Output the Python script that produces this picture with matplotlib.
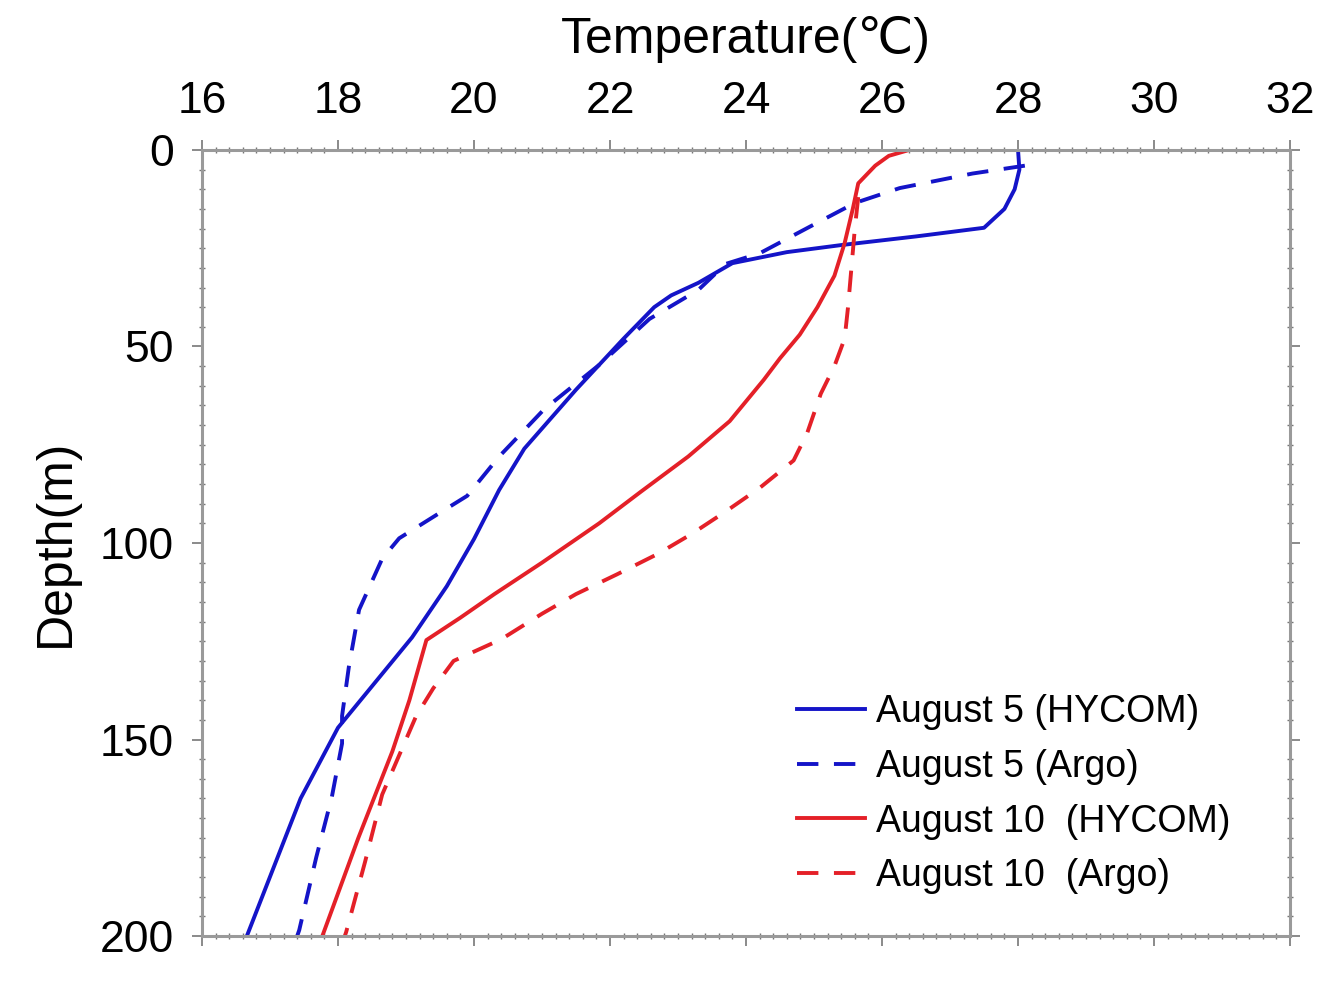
import matplotlib
matplotlib.use("Agg")
import matplotlib.pyplot as plt
from matplotlib.ticker import MultipleLocator

plt.rcParams['font.family'] = ['Liberation Sans', 'DejaVu Sans']

# Aug 5 HYCOM profile (temperature, depth)
Aug5HycomT = [28.0, 28.02, 27.95, 27.8, 27.5, 26.5, 25.4, 24.6, 23.8, 23.3, 22.9, 22.65,
              22.2, 21.5, 20.74, 20.37, 20.0, 19.6, 19.09, 18.0, 17.45, 16.66]
Aug5HycomD = [0, 5, 10, 15, 19.8, 22, 24.2, 26, 28.8, 33.8, 37, 40,
              48, 61, 76, 86.5, 99, 111, 124, 147, 165, 200]

# Aug 5 Argo profile
Aug5ArgoT = [28.1, 27.33, 26.26, 25.6, 24.93, 24.2, 23.7, 23.3, 22.58, 21.84, 21.03, 20.37,
             19.9, 19.49, 18.9, 18.65, 18.31, 18.16, 18.06, 18.06, 17.91, 17.68, 17.43, 17.4]
Aug5ArgoD = [4, 6, 9.7, 13.5, 19.6, 26.3, 29, 35.6, 43, 54.7, 66, 78,
             88, 92.4, 98.8, 104, 117, 131.5, 144, 151, 164.6, 180, 198.5, 200]

# Aug 10 HYCOM profile
Aug10HycomT = [26.4, 26.1, 25.9, 25.65, 25.57, 25.45, 25.3, 25.05, 24.79, 24.5, 24.26, 23.76,
               23.15, 22.45, 21.84, 21.0, 20.3, 19.8, 19.3, 19.05, 18.8, 18.3, 17.77]
Aug10HycomD = [0, 1.5, 4, 8.5, 15, 23.7, 32, 40, 47, 53, 58.5, 69,
               78, 87, 95, 105, 113, 119, 124.7, 140, 153, 175, 200]

# Aug 10 Argo profile
Aug10ArgoT = [25.65, 25.6, 25.55, 25.5, 25.45, 25.3, 25.1, 24.9, 24.7, 24.2, 23.7, 23.2,
              22.7, 22.1, 21.5, 21.0, 20.4, 19.7, 19.4, 19.15, 19.0, 18.65, 18.4, 18.12, 18.1]
Aug10ArgoD = [12, 20, 30, 40, 48, 55, 62, 72, 79, 86, 92, 97.7,
              102.8, 108, 113, 118, 124.5, 130, 137, 144, 150, 164, 181, 199, 200]

XTicks = [16, 18, 20, 22, 24, 26, 28, 30, 32]
YTicks = [0, 50, 100, 150, 200]

Blue = '#1414c8'
Red = '#e42028'
Dash = (5.5, 4)
LW = 2.8

Fig = plt.figure(figsize=(13.42, 9.82), dpi=100)
Ax = Fig.add_axes([0.1505, 0.0468, 0.8108, 0.8005])

Ax.plot(Aug5HycomT, Aug5HycomD, '-', color=Blue, lw=LW, label="August 5 (HYCOM)")
Ax.plot(Aug5ArgoT, Aug5ArgoD, '--', color=Blue, lw=LW, dashes=Dash, label="August 5 (Argo)")
Ax.plot(Aug10HycomT, Aug10HycomD, '-', color=Red, lw=LW, label="August 10  (HYCOM)")
Ax.plot(Aug10ArgoT, Aug10ArgoD, '--', color=Red, lw=LW, dashes=Dash, label="August 10  (Argo)")

Ax.set_xlim(16, 32)
Ax.set_ylim(200, 0)
Ax.set_xticks(XTicks)
Ax.set_yticks(YTicks)
Ax.xaxis.set_minor_locator(MultipleLocator(0.2))
Ax.yaxis.set_minor_locator(MultipleLocator(5))

Ax.xaxis.tick_top()
Ax.xaxis.set_label_position('top')
Ax.tick_params(which='major', direction='out', length=7, width=1.2, color='#777777',
               labelsize=32, pad=13, top=True, bottom=True, left=True, right=True,
               labelbottom=False, labeltop=True)
Ax.tick_params(which='minor', direction='inout', length=4, width=1.0, color='#777777',
               top=True, bottom=True, left=True, right=True)
for Spine in Ax.spines.values():
    Spine.set_color('#9a9a9a')
    Spine.set_linewidth(2.2)

Ax.set_xlabel("Temperature(℃)", fontsize=36, labelpad=20)
Ax.set_ylabel("Depth(m)", fontsize=36, labelpad=15)

Leg = Ax.legend(loc='upper left', bbox_to_anchor=(797 / 1342, 1 - 694 / 982),
                bbox_transform=Fig.transFigure, frameon=False, fontsize=27,
                handlelength=1.8, handletextpad=0.3, labelspacing=0.5,
                borderpad=0, borderaxespad=0)

Fig.savefig("out.png", dpi=100)
plt.close(Fig)
